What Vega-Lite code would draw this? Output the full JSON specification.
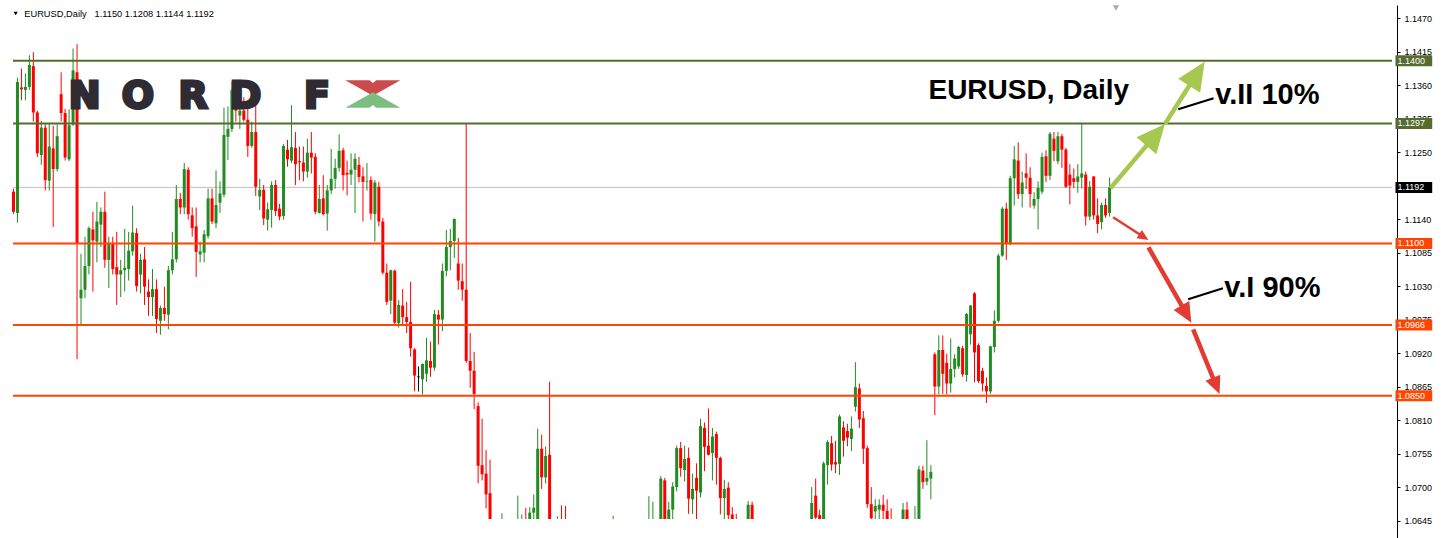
{
"$schema":"https://vega.github.io/schema/vega-lite/v6.json",
"width":1389,"height":533,
"autosize":{"type":"none"},
"padding":{"left":8,"top":5,"right":52,"bottom":0},
"background":"#ffffff",
"config":{"view":{"stroke":null},"axis":{"grid":false}},
"datasets":{
"candles":[
{"i":0,"o":1.1185,"h":1.119,"l":1.1148,"c":1.1152},
{"i":1,"o":1.115,"h":1.1372,"l":1.1134,"c":1.1365},
{"i":2,"o":1.1356,"h":1.1387,"l":1.1335,"c":1.1353},
{"i":3,"o":1.1352,"h":1.1379,"l":1.1335,"c":1.1357},
{"i":4,"o":1.1357,"h":1.1409,"l":1.1352,"c":1.1393},
{"i":5,"o":1.1391,"h":1.1414,"l":1.13,"c":1.1315},
{"i":6,"o":1.1315,"h":1.1318,"l":1.1242,"c":1.1248},
{"i":7,"o":1.1245,"h":1.1301,"l":1.1229,"c":1.129},
{"i":8,"o":1.129,"h":1.1297,"l":1.1187,"c":1.1204},
{"i":9,"o":1.1203,"h":1.1296,"l":1.1187,"c":1.1259},
{"i":10,"o":1.1256,"h":1.1293,"l":1.1127,"c":1.1222},
{"i":11,"o":1.1222,"h":1.1295,"l":1.1218,"c":1.1276},
{"i":12,"o":1.1345,"h":1.1381,"l":1.13,"c":1.1314},
{"i":13,"o":1.1314,"h":1.1321,"l":1.1236,"c":1.1241},
{"i":14,"o":1.1238,"h":1.132,"l":1.1235,"c":1.1294},
{"i":15,"o":1.1295,"h":1.142,"l":1.1293,"c":1.1384},
{"i":16,"o":1.1381,"h":1.1427,"l":1.091,"c":1.11},
{"i":17,"o":1.101,"h":1.1083,"l":1.0967,"c":1.1024},
{"i":18,"o":1.1024,"h":1.1111,"l":1.101,"c":1.1063},
{"i":19,"o":1.1063,"h":1.1128,"l":1.1049,"c":1.1125},
{"i":20,"o":1.1123,"h":1.1152,"l":1.1021,"c":1.1105},
{"i":21,"o":1.1103,"h":1.1168,"l":1.1069,"c":1.1136},
{"i":22,"o":1.1131,"h":1.1159,"l":1.1094,"c":1.1152},
{"i":23,"o":1.1152,"h":1.1185,"l":1.106,"c":1.1073},
{"i":24,"o":1.1073,"h":1.1111,"l":1.1027,"c":1.1099},
{"i":25,"o":1.1099,"h":1.1111,"l":1.1049,"c":1.1058},
{"i":26,"o":1.1061,"h":1.1119,"l":1.0999,"c":1.1049},
{"i":27,"o":1.1049,"h":1.1073,"l":1.1012,"c":1.1056},
{"i":28,"o":1.1056,"h":1.1124,"l":1.1021,"c":1.106},
{"i":29,"o":1.1058,"h":1.1119,"l":1.1039,"c":1.1088},
{"i":30,"o":1.1087,"h":1.1162,"l":1.108,"c":1.1118},
{"i":31,"o":1.1117,"h":1.1125,"l":1.1021,"c":1.103},
{"i":32,"o":1.1049,"h":1.1083,"l":1.1018,"c":1.1073},
{"i":33,"o":1.1074,"h":1.1094,"l":1.0999,"c":1.1029},
{"i":34,"o":1.1021,"h":1.1041,"l":1.0981,"c":1.1012},
{"i":35,"o":1.1012,"h":1.1058,"l":1.0981,"c":1.1025},
{"i":36,"o":1.1025,"h":1.1041,"l":1.0953,"c":1.0976},
{"i":37,"o":1.0973,"h":1.0998,"l":1.095,"c":1.0994},
{"i":38,"o":1.0994,"h":1.1029,"l":1.0973,"c":1.0984},
{"i":39,"o":1.0983,"h":1.1063,"l":1.0959,"c":1.1056},
{"i":40,"o":1.1056,"h":1.1119,"l":1.1049,"c":1.1074},
{"i":41,"o":1.1074,"h":1.1196,"l":1.1069,"c":1.1173},
{"i":42,"o":1.1173,"h":1.1183,"l":1.1148,"c":1.1159},
{"i":43,"o":1.1159,"h":1.1232,"l":1.1148,"c":1.1222},
{"i":44,"o":1.1221,"h":1.1225,"l":1.1139,"c":1.1148},
{"i":45,"o":1.1146,"h":1.1159,"l":1.1111,"c":1.1125},
{"i":46,"o":1.1128,"h":1.1159,"l":1.1045,"c":1.1086},
{"i":47,"o":1.1082,"h":1.1103,"l":1.1069,"c":1.1087},
{"i":48,"o":1.1085,"h":1.1122,"l":1.1069,"c":1.1115},
{"i":49,"o":1.1112,"h":1.119,"l":1.1108,"c":1.1174},
{"i":50,"o":1.1174,"h":1.119,"l":1.1132,"c":1.1136},
{"i":51,"o":1.1133,"h":1.122,"l":1.1125,"c":1.1163},
{"i":52,"o":1.1167,"h":1.1202,"l":1.115,"c":1.1182},
{"i":53,"o":1.118,"h":1.1323,"l":1.1176,"c":1.1278},
{"i":54,"o":1.1275,"h":1.1325,"l":1.1237,"c":1.1288},
{"i":55,"o":1.1288,"h":1.1366,"l":1.1283,"c":1.1352},
{"i":56,"o":1.1352,"h":1.1364,"l":1.13,"c":1.1318},
{"i":57,"o":1.131,"h":1.133,"l":1.1288,"c":1.1318},
{"i":58,"o":1.1318,"h":1.134,"l":1.13,"c":1.1303},
{"i":59,"o":1.1303,"h":1.1321,"l":1.1242,"c":1.126},
{"i":60,"o":1.126,"h":1.13,"l":1.1257,"c":1.1283},
{"i":61,"o":1.1283,"h":1.1341,"l":1.1178,"c":1.1193},
{"i":62,"o":1.1177,"h":1.1206,"l":1.1155,"c":1.1188},
{"i":63,"o":1.1188,"h":1.1196,"l":1.113,"c":1.1141},
{"i":64,"o":1.1139,"h":1.1167,"l":1.1121,"c":1.1156},
{"i":65,"o":1.1155,"h":1.1202,"l":1.1126,"c":1.1196},
{"i":66,"o":1.1196,"h":1.1204,"l":1.1145,"c":1.1153},
{"i":67,"o":1.1157,"h":1.1165,"l":1.1138,"c":1.1144},
{"i":68,"o":1.1145,"h":1.1263,"l":1.1139,"c":1.126},
{"i":69,"o":1.1254,"h":1.127,"l":1.1226,"c":1.1238},
{"i":70,"o":1.1236,"h":1.1327,"l":1.1232,"c":1.1258},
{"i":71,"o":1.1257,"h":1.1283,"l":1.1196,"c":1.123},
{"i":72,"o":1.1235,"h":1.1259,"l":1.1204,"c":1.1233},
{"i":73,"o":1.1233,"h":1.1259,"l":1.1202,"c":1.1218},
{"i":74,"o":1.1218,"h":1.1272,"l":1.1208,"c":1.1249},
{"i":75,"o":1.1249,"h":1.1283,"l":1.1215,"c":1.1241},
{"i":76,"o":1.1242,"h":1.1248,"l":1.1148,"c":1.1152},
{"i":77,"o":1.115,"h":1.1196,"l":1.1149,"c":1.1173},
{"i":78,"o":1.1174,"h":1.1212,"l":1.1146,"c":1.1148},
{"i":79,"o":1.1149,"h":1.1196,"l":1.1121,"c":1.1187},
{"i":80,"o":1.1187,"h":1.1255,"l":1.1181,"c":1.1206},
{"i":81,"o":1.1206,"h":1.1239,"l":1.119,"c":1.1224},
{"i":82,"o":1.1224,"h":1.1279,"l":1.1218,"c":1.1252},
{"i":83,"o":1.1253,"h":1.1257,"l":1.1187,"c":1.1212},
{"i":84,"o":1.1216,"h":1.1236,"l":1.1179,"c":1.1213},
{"i":85,"o":1.1213,"h":1.1248,"l":1.1196,"c":1.1221},
{"i":86,"o":1.1221,"h":1.1248,"l":1.115,"c":1.1239},
{"i":87,"o":1.1229,"h":1.1242,"l":1.12,"c":1.1209},
{"i":88,"o":1.121,"h":1.1225,"l":1.1136,"c":1.1201},
{"i":89,"o":1.1201,"h":1.1232,"l":1.1187,"c":1.1202},
{"i":90,"o":1.1204,"h":1.121,"l":1.1139,"c":1.1149},
{"i":91,"o":1.1148,"h":1.1204,"l":1.1103,"c":1.12},
{"i":92,"o":1.1193,"h":1.1201,"l":1.1128,"c":1.1136},
{"i":93,"o":1.1136,"h":1.1142,"l":1.1049,"c":1.1052},
{"i":94,"o":1.1052,"h":1.1067,"l":1.0999,"c":1.1004},
{"i":95,"o":1.1006,"h":1.1057,"l":1.0984,"c":1.1056},
{"i":96,"o":1.1055,"h":1.1057,"l":1.0967,"c":1.097},
{"i":97,"o":1.0969,"h":1.1007,"l":1.0962,"c":1.0999},
{"i":98,"o":1.0998,"h":1.1025,"l":1.0967,"c":1.0979},
{"i":99,"o":1.0979,"h":1.1004,"l":1.0953,"c":1.0971},
{"i":100,"o":1.0971,"h":1.1037,"l":1.0914,"c":1.0928},
{"i":101,"o":1.0926,"h":1.0928,"l":1.0857,"c":1.0883},
{"i":102,"o":1.0881,"h":1.0898,"l":1.0857,"c":1.0881},
{"i":103,"o":1.0877,"h":1.0903,"l":1.0852,"c":1.0902},
{"i":104,"o":1.0886,"h":1.0945,"l":1.0873,"c":1.0908},
{"i":105,"o":1.0907,"h":1.0939,"l":1.0881,"c":1.0896},
{"i":106,"o":1.0896,"h":1.0991,"l":1.0891,"c":1.0984},
{"i":107,"o":1.0983,"h":1.0991,"l":1.0934,"c":1.0975},
{"i":108,"o":1.0975,"h":1.1067,"l":1.0956,"c":1.1055},
{"i":109,"o":1.1055,"h":1.1122,"l":1.1046,"c":1.1094},
{"i":110,"o":1.1094,"h":1.1124,"l":1.1056,"c":1.1104},
{"i":111,"o":1.1104,"h":1.1141,"l":1.1076,"c":1.114},
{"i":112,"o":1.1067,"h":1.1109,"l":1.1024,"c":1.1039},
{"i":113,"o":1.1038,"h":1.1067,"l":1.1006,"c":1.1024},
{"i":114,"o":1.1024,"h":1.1297,"l":1.0904,"c":1.0907},
{"i":115,"o":1.0907,"h":1.0953,"l":1.0863,"c":1.0891},
{"i":116,"o":1.0891,"h":1.0922,"l":1.0828,"c":1.0853},
{"i":117,"o":1.0833,"h":1.0839,"l":1.0706,"c":1.0735},
{"i":118,"o":1.0736,"h":1.0812,"l":1.0711,"c":1.0721},
{"i":119,"o":1.0722,"h":1.0761,"l":1.0665,"c":1.0688},
{"i":120,"o":1.069,"h":1.0745,"l":1.06,"c":1.063},
{"i":121,"o":1.063,"h":1.064,"l":1.057,"c":1.0588},
{"i":122,"o":1.0588,"h":1.0645,"l":1.058,"c":1.0627},
{"i":123,"o":1.0627,"h":1.0657,"l":1.0595,"c":1.0632},
{"i":124,"o":1.0632,"h":1.064,"l":1.054,"c":1.0553},
{"i":125,"o":1.0553,"h":1.0575,"l":1.052,"c":1.0556},
{"i":126,"o":1.0556,"h":1.06,"l":1.055,"c":1.059},
{"i":127,"o":1.059,"h":1.0686,"l":1.058,"c":1.0613},
{"i":128,"o":1.0613,"h":1.0655,"l":1.06,"c":1.0645},
{"i":129,"o":1.0645,"h":1.0666,"l":1.057,"c":1.0588},
{"i":130,"o":1.0588,"h":1.0667,"l":1.058,"c":1.0658},
{"i":131,"o":1.0658,"h":1.0688,"l":1.063,"c":1.0666},
{"i":132,"o":1.062,"h":1.0796,"l":1.0505,"c":1.0763},
{"i":133,"o":1.0763,"h":1.0786,"l":1.0697,"c":1.0716},
{"i":134,"o":1.0716,"h":1.0767,"l":1.0706,"c":1.0751},
{"i":135,"o":1.0753,"h":1.0873,"l":1.06,"c":1.0616},
{"i":136,"o":1.0616,"h":1.063,"l":1.055,"c":1.056},
{"i":137,"o":1.054,"h":1.0652,"l":1.052,"c":1.0633},
{"i":138,"o":1.0633,"h":1.067,"l":1.06,"c":1.062},
{"i":139,"o":1.062,"h":1.0669,"l":1.052,"c":1.053},
{"i":140,"o":1.053,"h":1.054,"l":1.0365,"c":1.0415},
{"i":141,"o":1.0415,"h":1.047,"l":1.04,"c":1.045},
{"i":142,"o":1.045,"h":1.046,"l":1.039,"c":1.04},
{"i":143,"o":1.04,"h":1.042,"l":1.0352,"c":1.0385},
{"i":144,"o":1.0385,"h":1.044,"l":1.037,"c":1.0424},
{"i":145,"o":1.0424,"h":1.0455,"l":1.041,"c":1.0437},
{"i":146,"o":1.0437,"h":1.0465,"l":1.043,"c":1.0455},
{"i":147,"o":1.0455,"h":1.0465,"l":1.044,"c":1.0458},
{"i":148,"o":1.0458,"h":1.047,"l":1.044,"c":1.0455},
{"i":149,"o":1.0455,"h":1.048,"l":1.04,"c":1.041},
{"i":150,"o":1.041,"h":1.05,"l":1.04,"c":1.049},
{"i":151,"o":1.049,"h":1.0653,"l":1.048,"c":1.052},
{"i":152,"o":1.052,"h":1.0525,"l":1.045,"c":1.046},
{"i":153,"o":1.046,"h":1.047,"l":1.034,"c":1.0405},
{"i":154,"o":1.0405,"h":1.05,"l":1.039,"c":1.049},
{"i":155,"o":1.049,"h":1.0615,"l":1.048,"c":1.0605},
{"i":156,"o":1.0605,"h":1.062,"l":1.052,"c":1.053},
{"i":157,"o":1.053,"h":1.059,"l":1.052,"c":1.0575},
{"i":158,"o":1.0575,"h":1.059,"l":1.054,"c":1.0555},
{"i":159,"o":1.0555,"h":1.063,"l":1.045,"c":1.058},
{"i":160,"o":1.058,"h":1.0685,"l":1.056,"c":1.0612},
{"i":161,"o":1.0612,"h":1.0676,"l":1.059,"c":1.0645},
{"i":162,"o":1.064,"h":1.0645,"l":1.059,"c":1.0603},
{"i":163,"o":1.0603,"h":1.0718,"l":1.059,"c":1.0714},
{"i":164,"o":1.0711,"h":1.0715,"l":1.062,"c":1.063},
{"i":165,"o":1.063,"h":1.0676,"l":1.062,"c":1.0663},
{"i":166,"o":1.0663,"h":1.0708,"l":1.0647,"c":1.0701},
{"i":167,"o":1.07,"h":1.0768,"l":1.0693,"c":1.0764},
{"i":168,"o":1.0764,"h":1.0774,"l":1.0717,"c":1.0731},
{"i":169,"o":1.0728,"h":1.0768,"l":1.0709,"c":1.0746},
{"i":170,"o":1.0748,"h":1.0765,"l":1.0656,"c":1.0681},
{"i":171,"o":1.068,"h":1.0722,"l":1.0656,"c":1.0697},
{"i":172,"o":1.0715,"h":1.0739,"l":1.0618,"c":1.0694},
{"i":173,"o":1.0691,"h":1.0812,"l":1.0683,"c":1.08},
{"i":174,"o":1.0797,"h":1.0806,"l":1.0726,"c":1.0766},
{"i":175,"o":1.0768,"h":1.0829,"l":1.0752,"c":1.0753},
{"i":176,"o":1.0756,"h":1.0797,"l":1.0711,"c":1.0783},
{"i":177,"o":1.0787,"h":1.0791,"l":1.0704,"c":1.0748},
{"i":178,"o":1.0748,"h":1.075,"l":1.0655,"c":1.0682},
{"i":179,"o":1.0682,"h":1.0712,"l":1.064,"c":1.0697},
{"i":180,"o":1.0699,"h":1.0708,"l":1.064,"c":1.0654},
{"i":181,"o":1.0655,"h":1.0667,"l":1.062,"c":1.064},
{"i":182,"o":1.064,"h":1.0656,"l":1.059,"c":1.06},
{"i":183,"o":1.06,"h":1.062,"l":1.057,"c":1.0575},
{"i":184,"o":1.0575,"h":1.061,"l":1.052,"c":1.06},
{"i":185,"o":1.063,"h":1.0677,"l":1.062,"c":1.0671},
{"i":186,"o":1.0671,"h":1.0676,"l":1.06,"c":1.0615},
{"i":187,"o":1.0615,"h":1.0635,"l":1.059,"c":1.0612},
{"i":188,"o":1.0615,"h":1.062,"l":1.053,"c":1.054},
{"i":189,"o":1.054,"h":1.0575,"l":1.0495,"c":1.056},
{"i":190,"o":1.056,"h":1.06,"l":1.0545,"c":1.0585},
{"i":191,"o":1.0585,"h":1.06,"l":1.0545,"c":1.056},
{"i":192,"o":1.056,"h":1.0615,"l":1.055,"c":1.0605},
{"i":193,"o":1.0605,"h":1.062,"l":1.057,"c":1.0575},
{"i":194,"o":1.0575,"h":1.058,"l":1.0495,"c":1.0545},
{"i":195,"o":1.0545,"h":1.056,"l":1.0495,"c":1.051},
{"i":196,"o":1.051,"h":1.063,"l":1.0505,"c":1.062},
{"i":197,"o":1.062,"h":1.0625,"l":1.057,"c":1.058},
{"i":198,"o":1.058,"h":1.06,"l":1.056,"c":1.057},
{"i":199,"o":1.057,"h":1.058,"l":1.0525,"c":1.0545},
{"i":200,"o":1.0545,"h":1.0615,"l":1.0535,"c":1.058},
{"i":201,"o":1.058,"h":1.07,"l":1.0575,"c":1.0674},
{"i":202,"o":1.0686,"h":1.0714,"l":1.063,"c":1.065},
{"i":203,"o":1.0654,"h":1.0663,"l":1.06,"c":1.0606},
{"i":204,"o":1.061,"h":1.0742,"l":1.06,"c":1.0739},
{"i":205,"o":1.0736,"h":1.0777,"l":1.0704,"c":1.0774},
{"i":206,"o":1.0772,"h":1.0784,"l":1.0727,"c":1.0737},
{"i":207,"o":1.0741,"h":1.0776,"l":1.0723,"c":1.0737},
{"i":208,"o":1.0738,"h":1.0819,"l":1.072,"c":1.0816},
{"i":209,"o":1.0798,"h":1.0808,"l":1.075,"c":1.0776},
{"i":210,"o":1.0792,"h":1.0804,"l":1.0767,"c":1.0781},
{"i":211,"o":1.0779,"h":1.0816,"l":1.0759,"c":1.0796},
{"i":212,"o":1.0832,"h":1.0905,"l":1.0824,"c":1.0864},
{"i":213,"o":1.0862,"h":1.087,"l":1.0797,"c":1.0811},
{"i":214,"o":1.0813,"h":1.0825,"l":1.0738,"c":1.0763},
{"i":215,"o":1.0764,"h":1.0768,"l":1.0666,"c":1.0672},
{"i":216,"o":1.0672,"h":1.07,"l":1.064,"c":1.0649},
{"i":217,"o":1.066,"h":1.068,"l":1.064,"c":1.0669},
{"i":218,"o":1.0663,"h":1.068,"l":1.0645,"c":1.0671},
{"i":219,"o":1.0671,"h":1.0687,"l":1.064,"c":1.0661},
{"i":220,"o":1.0661,"h":1.068,"l":1.063,"c":1.064},
{"i":221,"o":1.064,"h":1.0665,"l":1.0605,"c":1.062},
{"i":222,"o":1.062,"h":1.064,"l":1.058,"c":1.06},
{"i":223,"o":1.06,"h":1.063,"l":1.058,"c":1.0605},
{"i":224,"o":1.0605,"h":1.0674,"l":1.0595,"c":1.0663},
{"i":225,"o":1.0663,"h":1.0676,"l":1.0605,"c":1.0612},
{"i":226,"o":1.0612,"h":1.064,"l":1.0605,"c":1.0615},
{"i":227,"o":1.0615,"h":1.0669,"l":1.06,"c":1.064},
{"i":228,"o":1.064,"h":1.0735,"l":1.062,"c":1.0729},
{"i":229,"o":1.0727,"h":1.0735,"l":1.0697,"c":1.0708},
{"i":230,"o":1.0709,"h":1.0777,"l":1.0703,"c":1.0715},
{"i":231,"o":1.0714,"h":1.0736,"l":1.068,"c":1.0725},
{"i":232,"o":1.0918,"h":1.0921,"l":1.0818,"c":1.0865},
{"i":233,"o":1.0865,"h":1.0949,"l":1.0852,"c":1.0925},
{"i":234,"o":1.0925,"h":1.0949,"l":1.0853,"c":1.0886},
{"i":235,"o":1.0904,"h":1.0919,"l":1.0852,"c":1.087},
{"i":236,"o":1.087,"h":1.0944,"l":1.0855,"c":1.0894},
{"i":237,"o":1.0894,"h":1.0918,"l":1.088,"c":1.0911},
{"i":238,"o":1.0898,"h":1.0932,"l":1.0894,"c":1.093},
{"i":239,"o":1.0928,"h":1.0932,"l":1.0881,"c":1.0885},
{"i":240,"o":1.0884,"h":1.0986,"l":1.0873,"c":1.0984},
{"i":241,"o":1.0951,"h":1.0999,"l":1.0934,"c":1.0998},
{"i":242,"o":1.1018,"h":1.102,"l":1.0872,"c":1.0921},
{"i":243,"o":1.0933,"h":1.0936,"l":1.0871,"c":1.0874},
{"i":244,"o":1.0891,"h":1.0896,"l":1.0857,"c":1.087},
{"i":245,"o":1.0866,"h":1.088,"l":1.0838,"c":1.0857},
{"i":246,"o":1.0857,"h":1.0932,"l":1.0853,"c":1.0931},
{"i":247,"o":1.093,"h":1.099,"l":1.0921,"c":1.0973},
{"i":248,"o":1.0973,"h":1.1083,"l":1.097,"c":1.108},
{"i":249,"o":1.108,"h":1.116,"l":1.1078,"c":1.1157},
{"i":250,"o":1.1157,"h":1.1167,"l":1.1073,"c":1.1101},
{"i":251,"o":1.1101,"h":1.1211,"l":1.1097,"c":1.1207},
{"i":252,"o":1.1207,"h":1.126,"l":1.1162,"c":1.1238},
{"i":253,"o":1.1236,"h":1.1266,"l":1.1173,"c":1.1181},
{"i":254,"o":1.1181,"h":1.1218,"l":1.1159,"c":1.12},
{"i":255,"o":1.1215,"h":1.1248,"l":1.1189,"c":1.1208},
{"i":256,"o":1.1208,"h":1.1225,"l":1.1159,"c":1.1181},
{"i":257,"o":1.1162,"h":1.1184,"l":1.1157,"c":1.1173},
{"i":258,"o":1.1173,"h":1.1202,"l":1.1123,"c":1.1191},
{"i":259,"o":1.1185,"h":1.1249,"l":1.1181,"c":1.1242},
{"i":260,"o":1.1243,"h":1.1253,"l":1.1201,"c":1.1211},
{"i":261,"o":1.1211,"h":1.1283,"l":1.1204,"c":1.128},
{"i":262,"o":1.1272,"h":1.1283,"l":1.1235,"c":1.1252},
{"i":263,"o":1.1235,"h":1.1283,"l":1.123,"c":1.1276},
{"i":264,"o":1.1276,"h":1.128,"l":1.1224,"c":1.1254},
{"i":265,"o":1.1254,"h":1.1257,"l":1.1191,"c":1.1193},
{"i":266,"o":1.1213,"h":1.123,"l":1.1164,"c":1.1195},
{"i":267,"o":1.1207,"h":1.1223,"l":1.1191,"c":1.1201},
{"i":268,"o":1.1201,"h":1.123,"l":1.1183,"c":1.121},
{"i":269,"o":1.1208,"h":1.1296,"l":1.119,"c":1.1215},
{"i":270,"o":1.1213,"h":1.1218,"l":1.1129,"c":1.1144},
{"i":271,"o":1.1144,"h":1.1202,"l":1.1138,"c":1.1193},
{"i":272,"o":1.121,"h":1.121,"l":1.1139,"c":1.1146},
{"i":273,"o":1.1146,"h":1.1174,"l":1.1117,"c":1.1132},
{"i":274,"o":1.1135,"h":1.1167,"l":1.1123,"c":1.1163},
{"i":275,"o":1.1163,"h":1.1174,"l":1.1142,"c":1.1146},
{"i":276,"o":1.115,"h":1.1208,"l":1.1144,"c":1.1192}
],
"levels":[
{"p":1.14,"kind":"resistance","label":"1.1400"},
{"p":1.1297,"kind":"resistance","label":"1.1297"},
{"p":1.1192,"kind":"current","label":"1.1192"},
{"p":1.11,"kind":"support","label":"1.1100"},
{"p":1.0966,"kind":"support","label":"1.0966"},
{"p":1.085,"kind":"support","label":"1.0850"}
],
"notes":[
{"role":"title","text":"EURUSD, Daily","i":230.4,"p":1.13363},
{"role":"scenario","text":"v.II 10%","i":302.6,"p":1.13289},
{"role":"scenario","text":"v.I 90%","i":304.9,"p":1.10125},
{"role":"header","text":"EURUSD,Daily","i":2.7,"p":1.14722},
{"role":"header","text":"1.1150 1.1208 1.1144 1.1192","i":20.4,"p":1.14722}
],
"logo":[
{"ch":"N","i":17.9,"p":1.13219},
{"ch":"O","i":31.3,"p":1.13219},
{"ch":"R","i":45.25,"p":1.13219},
{"ch":"D","i":58.4,"p":1.13219},
{"ch":"F","i":76.4,"p":1.13219}
],
"emblem":[{"i":90.5,"p":1.13453}],
"shafts":[
{"id":"g1","i1":276.2,"p1":1.11905,"i2":287.5,"p2":1.12774},
{"id":"g2","i1":289.95,"p1":1.12961,"i2":297.9,"p2":1.13777},
{"id":"r1","i1":276.9,"p1":1.11429,"i2":284.5,"p2":1.11109},
{"id":"r2","i1":285.8,"p1":1.10936,"i2":295.0,"p2":1.09884},
{"id":"r3","i1":297.05,"p1":1.0959,"i2":302.65,"p2":1.08696},
{"id":"k1","i1":293.3,"p1":1.13202,"i2":302.2,"p2":1.13383},
{"id":"k2","i1":295.8,"p1":1.10083,"i2":304.55,"p2":1.10263}
],
"heads":[
{"id":"g1","i":289.95,"p":1.12961},
{"id":"g2","i":299.95,"p":1.13984},
{"id":"r1","i":285.8,"p":1.11056},
{"id":"r2","i":296.6,"p":1.09699},
{"id":"r3","i":303.7,"p":1.08528}
],
"markers":[
{"id":"menu","i":0.55,"p":1.14775},
{"id":"shift","i":277.6,"p":1.14865}
]
},
"resolve":{"scale":{"y":"independent"}},
"layer":[
{"data":{"name":"levels"},
"transform":[{"filter":"datum.kind == 'current'"}],
"mark":{"type":"rule","strokeWidth":1},
"encoding":{
"x":{"datum":0,"type":"quantitative","scale":{"domain":[-0.125,347.125],"nice":false,"zero":false},"axis":{"orient":"top","domain":true,"domainColor":"#000000","domainWidth":1,"ticks":false,"labels":false,"title":null,"grid":false}},
"x2":{"datum":347.125},
"y":{"field":"p","type":"quantitative","scale":{"domain":[1.06164,1.14914],"nice":false,"zero":false},
"axis":{"orient":"right","values":[1.0645,1.07,1.0755,1.081,1.0865,1.092,1.0975,1.103,1.1085,1.114,1.125,1.1305,1.136,1.1415,1.147],"format":".4f","domain":true,"domainColor":"#000000","domainWidth":1,"ticks":true,"tickColor":"#000000","tickSize":3,"tickWidth":1,"labels":true,"labelColor":"#000000","labelFont":"Liberation Sans","labelFontSize":9,"labelPadding":4,"labelOverlap":false,"labelBound":false,"labelFlush":false,"title":null,"grid":false,"zindex":0}},
"stroke":{"field":"kind","type":"nominal","scale":{"domain":["resistance","current","support"],"range":["#556b2f","#c0c0c0","#ff4500"]},"legend":null}}},
{"data":{"name":"candles"},
"mark":{"type":"rule","strokeWidth":1},
"encoding":{
"x":{"field":"i","type":"quantitative","scale":{"domain":[-0.125,347.125],"nice":false,"zero":false},"axis":null},
"y":{"field":"l","type":"quantitative","scale":{"domain":[1.06476,1.14914],"range":[514,0],"clamp":true,"nice":false,"zero":false},"axis":null},
"y2":{"field":"h"},
"color":{"condition":[{"test":"datum.c > datum.o","value":"#228b22"},{"test":"datum.c < datum.o","value":"#ff0000"}],"value":"#000000"}}},
{"data":{"name":"candles"},
"mark":{"type":"bar","width":3},
"encoding":{
"x":{"field":"i","type":"quantitative","scale":{"domain":[-0.125,347.125],"nice":false,"zero":false},"axis":null},
"y":{"field":"o","type":"quantitative","scale":{"domain":[1.06476,1.14914],"range":[514,0],"clamp":true,"nice":false,"zero":false},"axis":null},
"y2":{"field":"c"},
"color":{"condition":[{"test":"datum.c > datum.o","value":"#228b22"},{"test":"datum.c < datum.o","value":"#ff0000"}],"value":"#000000"}}},
{"data":{"name":"candles"},
"transform":[{"filter":"datum.o == datum.c"}],
"mark":{"type":"tick","orient":"horizontal","size":3,"thickness":1,"color":"#000000"},
"encoding":{
"x":{"field":"i","type":"quantitative","scale":{"domain":[-0.125,347.125],"nice":false,"zero":false},"axis":null},
"y":{"field":"o","type":"quantitative","scale":{"domain":[1.06476,1.14914],"range":[514,0],"clamp":true,"nice":false,"zero":false},"axis":null}}},
{"data":{"name":"levels"},
"transform":[{"filter":"datum.kind != 'current'"}],
"mark":{"type":"rule","strokeWidth":2},
"encoding":{
"x":{"datum":-0.125,"type":"quantitative","scale":{"domain":[-0.125,347.125],"nice":false,"zero":false},"axis":null},
"x2":{"datum":347.125},
"y":{"field":"p","type":"quantitative","scale":{"domain":[1.06164,1.14914],"nice":false,"zero":false},"axis":null},
"stroke":{"field":"kind","type":"nominal","scale":{"domain":["resistance","current","support"],"range":["#556b2f","#c0c0c0","#ff4500"]},"legend":null}}},
{"data":{"name":"logo"},
"mark":{"type":"text","font":"DejaVu Sans","fontWeight":"bold","fontSize":38,"align":"center","baseline":"alphabetic","color":"#2e2b33","stroke":"#2e2b33","strokeWidth":3},
"encoding":{
"x":{"field":"i","type":"quantitative","scale":{"domain":[-0.125,347.125],"nice":false,"zero":false},"axis":null},
"y":{"field":"p","type":"quantitative","scale":{"domain":[1.06164,1.14914],"nice":false,"zero":false},"axis":null},
"text":{"field":"ch"}}},
{"data":{"name":"emblem"},
"mark":{"type":"point","filled":true,"opacity":1,"strokeWidth":0,"size":3025,"color":"#cc4a4a","shape":"M-1,-0.5L-0.12,-0.5L0,-0.4L0.12,-0.5L1,-0.5L0,0.06Z"},
"encoding":{
"x":{"field":"i","type":"quantitative","scale":{"domain":[-0.125,347.125],"nice":false,"zero":false},"axis":null},
"y":{"field":"p","type":"quantitative","scale":{"domain":[1.06164,1.14914],"nice":false,"zero":false},"axis":null}}},
{"data":{"name":"emblem"},
"mark":{"type":"point","filled":true,"opacity":1,"strokeWidth":0,"size":3025,"color":"#7cbd80","shape":"M-1,0.5L-0.12,0.5L0,0.4L0.12,0.5L1,0.5L0,-0.06Z"},
"encoding":{
"x":{"field":"i","type":"quantitative","scale":{"domain":[-0.125,347.125],"nice":false,"zero":false},"axis":null},
"y":{"field":"p","type":"quantitative","scale":{"domain":[1.06164,1.14914],"nice":false,"zero":false},"axis":null}}},
{"data":{"name":"notes"},
"transform":[{"filter":"datum.role == 'title'"}],
"mark":{"type":"text","font":"Liberation Sans","fontWeight":"bold","fontSize":28,"align":"left","baseline":"alphabetic","color":"#000000"},
"encoding":{
"x":{"field":"i","type":"quantitative","scale":{"domain":[-0.125,347.125],"nice":false,"zero":false},"axis":null},
"y":{"field":"p","type":"quantitative","scale":{"domain":[1.06164,1.14914],"nice":false,"zero":false},"axis":null},
"text":{"field":"text"}}},
{"data":{"name":"notes"},
"transform":[{"filter":"datum.role == 'scenario'"}],
"mark":{"type":"text","font":"Liberation Sans","fontWeight":"bold","fontSize":29,"align":"left","baseline":"alphabetic","color":"#000000"},
"encoding":{
"x":{"field":"i","type":"quantitative","scale":{"domain":[-0.125,347.125],"nice":false,"zero":false},"axis":null},
"y":{"field":"p","type":"quantitative","scale":{"domain":[1.06164,1.14914],"nice":false,"zero":false},"axis":null},
"text":{"field":"text"}}},
{"data":{"name":"notes"},
"transform":[{"filter":"datum.role == 'header'"}],
"mark":{"type":"text","font":"Liberation Sans","fontSize":9.3,"align":"left","baseline":"alphabetic","color":"#000000"},
"encoding":{
"x":{"field":"i","type":"quantitative","scale":{"domain":[-0.125,347.125],"nice":false,"zero":false},"axis":null},
"y":{"field":"p","type":"quantitative","scale":{"domain":[1.06164,1.14914],"nice":false,"zero":false},"axis":null},
"text":{"field":"text"}}},
{"data":{"name":"shafts"},
"transform":[{"filter":{"field":"id","oneOf":["g1","g2"]}}],
"mark":{"type":"rule","strokeWidth":4.5,"color":"#a6c850"},
"encoding":{
"x":{"field":"i1","type":"quantitative","scale":{"domain":[-0.125,347.125],"nice":false,"zero":false},"axis":null},
"y":{"field":"p1","type":"quantitative","scale":{"domain":[1.06164,1.14914],"nice":false,"zero":false},"axis":null},
"x2":{"field":"i2"},"y2":{"field":"p2"}}},
{"data":{"name":"shafts"},
"transform":[{"filter":{"field":"id","oneOf":["r1"]}}],
"mark":{"type":"rule","strokeWidth":2.5,"color":"#e23c32"},
"encoding":{
"x":{"field":"i1","type":"quantitative","scale":{"domain":[-0.125,347.125],"nice":false,"zero":false},"axis":null},
"y":{"field":"p1","type":"quantitative","scale":{"domain":[1.06164,1.14914],"nice":false,"zero":false},"axis":null},
"x2":{"field":"i2"},"y2":{"field":"p2"}}},
{"data":{"name":"shafts"},
"transform":[{"filter":{"field":"id","oneOf":["r2","r3"]}}],
"mark":{"type":"rule","strokeWidth":4.5,"color":"#e23c32"},
"encoding":{
"x":{"field":"i1","type":"quantitative","scale":{"domain":[-0.125,347.125],"nice":false,"zero":false},"axis":null},
"y":{"field":"p1","type":"quantitative","scale":{"domain":[1.06164,1.14914],"nice":false,"zero":false},"axis":null},
"x2":{"field":"i2"},"y2":{"field":"p2"}}},
{"data":{"name":"shafts"},
"transform":[{"filter":{"field":"id","oneOf":["k1","k2"]}}],
"mark":{"type":"rule","strokeWidth":2,"color":"#000000"},
"encoding":{
"x":{"field":"i1","type":"quantitative","scale":{"domain":[-0.125,347.125],"nice":false,"zero":false},"axis":null},
"y":{"field":"p1","type":"quantitative","scale":{"domain":[1.06164,1.14914],"nice":false,"zero":false},"axis":null},
"x2":{"field":"i2"},"y2":{"field":"p2"}}},
{"data":{"name":"heads"},
"transform":[{"filter":"datum.id == 'g1'"}],
"mark":{"type":"point","filled":true,"opacity":1,"strokeWidth":0,"color":"#a6c850","shape":"M0,0L1,2.2L-1,2.2Z","size":676,"angle":40.5},
"encoding":{
"x":{"field":"i","type":"quantitative","scale":{"domain":[-0.125,347.125],"nice":false,"zero":false},"axis":null},
"y":{"field":"p","type":"quantitative","scale":{"domain":[1.06164,1.14914],"nice":false,"zero":false},"axis":null}}},
{"data":{"name":"heads"},
"transform":[{"filter":"datum.id == 'g2'"}],
"mark":{"type":"point","filled":true,"opacity":1,"strokeWidth":0,"color":"#a6c850","shape":"M0,0L1,2.2L-1,2.2Z","size":676,"angle":32.7},
"encoding":{
"x":{"field":"i","type":"quantitative","scale":{"domain":[-0.125,347.125],"nice":false,"zero":false},"axis":null},
"y":{"field":"p","type":"quantitative","scale":{"domain":[1.06164,1.14914],"nice":false,"zero":false},"axis":null}}},
{"data":{"name":"heads"},
"transform":[{"filter":"datum.id == 'r1'"}],
"mark":{"type":"point","filled":true,"opacity":1,"strokeWidth":0,"color":"#e23c32","shape":"M0,0L1,2.2L-1,2.2Z","size":100,"angle":122.5},
"encoding":{
"x":{"field":"i","type":"quantitative","scale":{"domain":[-0.125,347.125],"nice":false,"zero":false},"axis":null},
"y":{"field":"p","type":"quantitative","scale":{"domain":[1.06164,1.14914],"nice":false,"zero":false},"axis":null}}},
{"data":{"name":"heads"},
"transform":[{"filter":"datum.id == 'r2'"}],
"mark":{"type":"point","filled":true,"opacity":1,"strokeWidth":0,"color":"#e23c32","shape":"M0,0L1,2.2L-1,2.2Z","size":324,"angle":150.1},
"encoding":{
"x":{"field":"i","type":"quantitative","scale":{"domain":[-0.125,347.125],"nice":false,"zero":false},"axis":null},
"y":{"field":"p","type":"quantitative","scale":{"domain":[1.06164,1.14914],"nice":false,"zero":false},"axis":null}}},
{"data":{"name":"heads"},
"transform":[{"filter":"datum.id == 'r3'"}],
"mark":{"type":"point","filled":true,"opacity":1,"strokeWidth":0,"color":"#e23c32","shape":"M0,0L1,2.2L-1,2.2Z","size":256,"angle":157.7},
"encoding":{
"x":{"field":"i","type":"quantitative","scale":{"domain":[-0.125,347.125],"nice":false,"zero":false},"axis":null},
"y":{"field":"p","type":"quantitative","scale":{"domain":[1.06164,1.14914],"nice":false,"zero":false},"axis":null}}},
{"data":{"name":"levels"},
"mark":{"type":"rect","yOffset":-5.5,"y2Offset":5.5},
"encoding":{
"x":{"datum":348.0,"type":"quantitative","scale":{"domain":[-0.125,347.125],"nice":false,"zero":false},"axis":null},
"x2":{"datum":357.25},
"y":{"field":"p","type":"quantitative","scale":{"domain":[1.06164,1.14914],"nice":false,"zero":false},"axis":null},
"y2":{"field":"p"},
"fill":{"field":"kind","type":"nominal","scale":{"domain":["resistance","current","support"],"range":["#556b2f","#000000","#ff4500"]},"legend":null}}},
{"data":{"name":"levels"},
"mark":{"type":"text","font":"Liberation Sans","fontSize":9,"align":"left","baseline":"middle","color":"#ffffff"},
"encoding":{
"x":{"datum":348.5,"type":"quantitative","scale":{"domain":[-0.125,347.125],"nice":false,"zero":false},"axis":null},
"y":{"field":"p","type":"quantitative","scale":{"domain":[1.06164,1.14914],"nice":false,"zero":false},"axis":null},
"text":{"field":"label"}}},
{"data":{"name":"markers"},
"transform":[{"filter":"datum.id == 'menu'"}],
"mark":{"type":"point","filled":true,"opacity":1,"strokeWidth":0,"shape":"triangle-down","size":18,"color":"#000000"},
"encoding":{
"x":{"field":"i","type":"quantitative","scale":{"domain":[-0.125,347.125],"nice":false,"zero":false},"axis":null},
"y":{"field":"p","type":"quantitative","scale":{"domain":[1.06164,1.14914],"nice":false,"zero":false},"axis":null}}},
{"data":{"name":"markers"},
"transform":[{"filter":"datum.id == 'shift'"}],
"mark":{"type":"point","filled":true,"opacity":1,"strokeWidth":0,"shape":"triangle-down","size":40,"color":"#a8a8a8"},
"encoding":{
"x":{"field":"i","type":"quantitative","scale":{"domain":[-0.125,347.125],"nice":false,"zero":false},"axis":null},
"y":{"field":"p","type":"quantitative","scale":{"domain":[1.06164,1.14914],"nice":false,"zero":false},"axis":null}}}
]
}
